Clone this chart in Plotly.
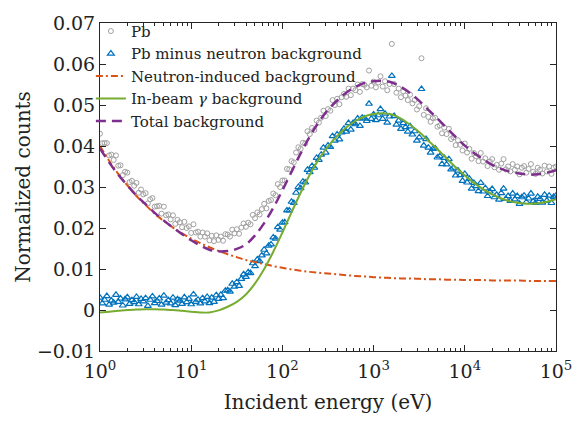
import numpy as np
import plotly.graph_objects as go

# Energy bins (log-spaced, 40 per decade) for the measured points
log_energy = np.arange(201) * 0.025
energy = 10 ** log_energy

pb = [0.0430,0.0407,0.0407,0.0407,0.0377,0.0379,0.0366,0.0377,0.0352,0.0353,0.0329,0.0337,0.0335,0.0312,0.0315,0.0303,0.0310,0.0286,0.0294,0.0282,0.0285,0.0260,0.0270,0.0273,0.0252,0.0253,0.0254,0.0235,0.0252,0.0231,0.0233,0.0221,0.0231,0.0210,0.0220,0.0214,0.0202,0.0215,0.0200,0.0204,0.0188,0.0209,0.0189,0.0191,0.0179,0.0189,0.0179,0.0187,0.0170,
      0.0181,0.0168,0.0182,0.0171,0.0179,0.0169,0.0185,0.0184,0.0179,0.0196,0.0187,0.0197,0.0186,0.0201,0.0211,0.0203,0.0213,0.0209,0.0232,0.0224,0.0238,0.0233,0.0246,0.0259,0.0248,0.0266,0.0268,0.0284,0.0280,0.0307,0.0300,0.0316,
      0.0316,0.0344,0.0343,0.0363,0.0360,0.0384,0.0397,0.0393,0.0408,0.0406,0.0436,0.0429,0.0444,0.0439,0.0462,0.0457,0.0469,0.0486,0.0473,0.0490,0.0486,0.0512,0.0500,0.0515,0.0502,0.0519,0.0527,0.0520,0.0540,0.0524,0.0540,0.0536,0.0550,0.0532,0.0551,0.0549,0.0543,0.0584,0.0547,0.0557,
      0.0543,0.0555,0.0570,0.0545,0.0558,0.0536,0.0551,0.0649,0.0551,0.0530,0.0540,0.0519,0.0533,0.0523,0.0512,0.0525,0.0504,0.0512,0.0489,0.0497,0.0614,0.0476,0.0492,0.0471,0.0459,0.0468,0.0469,0.0447,0.0450,0.0431,0.0445,0.0429,0.0442,0.0417,0.0421,0.0402,0.0414,0.0403,0.0389,0.0406,
      0.0384,0.0393,0.0369,0.0383,0.0375,0.0363,0.0383,0.0362,0.0370,0.0351,0.0362,0.0368,0.0348,0.0354,0.0342,0.0357,0.0368,0.0343,0.0350,0.0338,0.0356,0.0342,0.0350,0.0331,0.0347,0.0351,0.0335,0.0344,0.0356,0.0337,0.0332,0.0347,0.0342,0.0333,0.0352,0.0338,0.0350,0.0332,0.0347,0.0350]

pb_minus_neutron = [0.0030,0.0016,0.0025,0.0034,0.0013,0.0023,0.0018,0.0037,0.0020,0.0028,0.0011,0.0026,0.0031,0.0015,0.0024,0.0019,0.0032,0.0014,0.0027,0.0021,0.0029,0.0010,0.0025,0.0033,0.0017,0.0022,0.0028,0.0013,0.0035,0.0018,0.0024,0.0016,0.0030,0.0012,0.0026,0.0023,0.0015,0.0031,0.0019,0.0027,0.0014,0.0038,0.0020,0.0025,0.0016,0.0029,0.0021,0.0032,0.0017,
      0.0030,0.0020,0.0036,0.0027,0.0037,0.0029,0.0047,0.0048,0.0045,0.0064,0.0057,0.0068,0.0059,0.0076,0.0087,0.0081,0.0092,0.0090,0.0114,0.0107,0.0123,0.0119,0.0133,0.0147,0.0138,0.0157,0.0160,0.0177,0.0174,0.0202,0.0196,0.0213,
      0.0214,0.0243,0.0243,0.0264,0.0261,0.0286,0.0300,0.0297,0.0313,0.0311,0.0342,0.0336,0.0351,0.0347,0.0371,0.0366,0.0379,0.0396,0.0384,0.0401,0.0398,0.0424,0.0413,0.0428,0.0416,0.0433,0.0442,0.0435,0.0456,0.0440,0.0456,0.0453,0.0467,0.0449,0.0469,0.0467,0.0461,0.0503,0.0466,0.0477,
      0.0463,0.0475,0.0490,0.0466,0.0479,0.0457,0.0472,0.0571,0.0473,0.0452,0.0462,0.0442,0.0456,0.0446,0.0435,0.0448,0.0428,0.0436,0.0413,0.0421,0.0539,0.0401,0.0417,0.0396,0.0384,0.0393,0.0394,0.0372,0.0375,0.0356,0.0371,0.0355,0.0368,0.0343,0.0347,0.0328,0.0340,0.0329,0.0315,0.0332,
      0.0311,0.0320,0.0296,0.0310,0.0302,0.0290,0.0310,0.0289,0.0297,0.0278,0.0289,0.0295,0.0275,0.0281,0.0269,0.0285,0.0296,0.0271,0.0278,0.0266,0.0284,0.0270,0.0278,0.0259,0.0275,0.0279,0.0263,0.0272,0.0284,0.0265,0.0261,0.0276,0.0271,0.0262,0.0281,0.0267,0.0279,0.0261,0.0276,0.0279]

# Fitted curves sampled every 0.1 decade
curve_energy = 10 ** (np.arange(51) * 0.1)
neutron_bg = [0.0400,0.0364,0.0332,0.0304,0.0278,0.0256,0.0235,0.0217,0.0201,0.0187,0.0174,0.0163,0.0153,0.0144,0.0136,0.0129,0.0122,0.0117,0.0112,0.0107,0.0103,0.0099,0.0096,0.0093,0.0091,0.0089,0.0087,0.0085,0.0083,0.0082,0.0080,0.0079,0.0078,0.0077,0.0077,0.0076,0.0075,0.0075,0.0074,0.0074,0.0073,0.0073,0.0073,0.0072,0.0072,0.0072,0.0072,0.0071,0.0071,0.0071,0.0071]
gamma_bg = [-0.0006,-0.0004,-0.0002,0.0000,0.0001,0.0002,0.0002,0.0001,0.0000,-0.0002,-0.0004,-0.0006,-0.0006,-0.0001,0.0008,0.0020,0.0038,0.0065,0.0100,0.0142,0.0189,0.0238,0.0286,0.0330,0.0368,0.0399,0.0424,0.0445,0.0461,0.0472,0.0478,0.0480,0.0477,0.0467,0.0452,0.0434,0.0413,0.0392,0.0370,0.0348,0.0328,0.0310,0.0295,0.0282,0.0272,0.0265,0.0261,0.0259,0.0260,0.0264,0.0270]
total_bg = [0.0394,0.0360,0.0330,0.0304,0.0279,0.0258,0.0237,0.0218,0.0201,0.0185,0.0170,0.0157,0.0147,0.0143,0.0144,0.0149,0.0160,0.0182,0.0212,0.0249,0.0292,0.0337,0.0382,0.0423,0.0459,0.0488,0.0511,0.0530,0.0544,0.0554,0.0558,0.0559,0.0555,0.0544,0.0529,0.0510,0.0488,0.0467,0.0444,0.0422,0.0401,0.0383,0.0368,0.0354,0.0344,0.0337,0.0333,0.0330,0.0331,0.0335,0.0341]

x_tickvals = [1, 10, 100, 1000, 10000, 100000]
x_ticktext = ["10<sup>0</sup>", "10<sup>1</sup>", "10<sup>2</sup>", "10<sup>3</sup>", "10<sup>4</sup>", "10<sup>5</sup>"]
x_minor = [m * 10 ** d for d in range(5) for m in range(2, 10)]
y_tickvals = [-0.01, 0, 0.01, 0.02, 0.03, 0.04, 0.05, 0.06, 0.07]
y_ticktext = ["\u22120.01", "0", "0.01", "0.02", "0.03", "0.04", "0.05", "0.06", "0.07"]

FONT = "DejaVu Serif"
AX = "#262626"

fig = go.Figure()
fig.add_trace(go.Scatter(x=energy, y=pb, mode="markers", name="Pb",
                         marker=dict(symbol="circle-open", size=5, color="#a0a0a0", line=dict(width=1))))
fig.add_trace(go.Scatter(x=energy, y=pb_minus_neutron, mode="markers", name="Pb minus neutron background",
                         marker=dict(symbol="triangle-up-open", size=6, color="#0072BD", line=dict(width=1.2))))
fig.add_trace(go.Scatter(x=curve_energy, y=neutron_bg, mode="lines", name="Neutron-induced background",
                         line=dict(color="#D95319", width=2, dash="7px,3px,2px,3px", shape="spline")))
fig.add_trace(go.Scatter(x=curve_energy, y=gamma_bg, mode="lines", name="In-beam <i>\u03b3</i> background",
                         line=dict(color="#77AC30", width=2, shape="spline")))
fig.add_trace(go.Scatter(x=curve_energy, y=total_bg, mode="lines", name="Total background",
                         line=dict(color="#7E2F8E", width=2.5, dash="10px,6px", shape="spline")))

fig.update_layout(
    width=587, height=423,
    margin=dict(l=100, r=31, t=16, b=72),
    paper_bgcolor="white", plot_bgcolor="white",
    font=dict(family=FONT, size=19, color="#222222"),
    showlegend=True,
    legend=dict(x=-0.02, y=1.025, xanchor="left", yanchor="top",
                bgcolor="rgba(0,0,0,0)", font=dict(size=15, family=FONT)),
    xaxis=dict(type="log", range=[0, 5], tickmode="array", tickvals=x_tickvals, ticktext=x_ticktext,
               ticks="inside", ticklen=6, tickcolor=AX, showline=True, linecolor=AX, linewidth=1,
               mirror="ticks", showgrid=False, zeroline=False, ticklabelstandoff=3,
               minor=dict(tickmode="array", tickvals=x_minor, ticks="inside", ticklen=3, tickcolor=AX, showgrid=False),
               title=dict(text="Incident energy (eV)", font=dict(size=20), standoff=14)),
    yaxis=dict(range=[-0.01, 0.07], tickmode="array", tickvals=y_tickvals, ticktext=y_ticktext,
               ticks="inside", ticklen=6, tickcolor=AX, showline=True, linecolor=AX, linewidth=1,
               mirror="ticks", showgrid=False, zeroline=False,
               title=dict(text="Normalized counts", font=dict(size=20), standoff=0)),
)

fig.write_html("out.html")
